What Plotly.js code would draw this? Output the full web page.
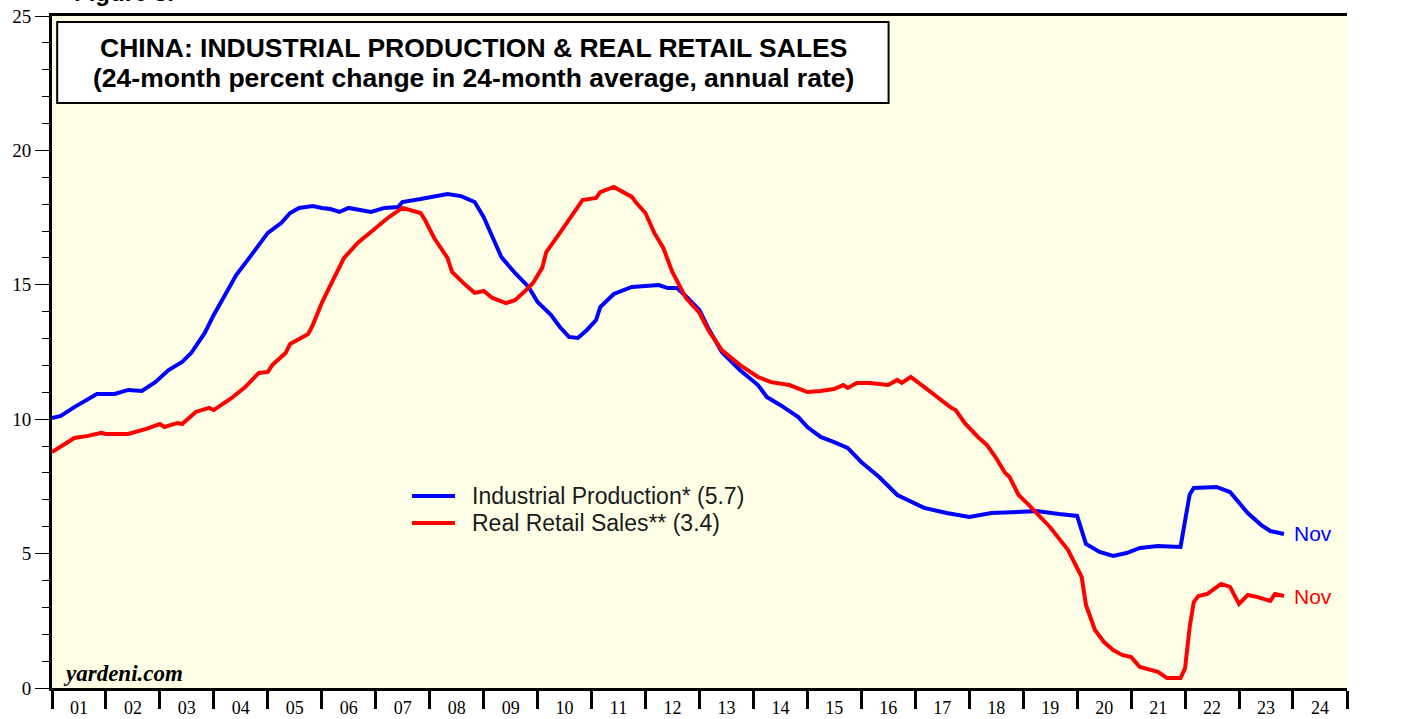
<!DOCTYPE html>
<html>
<head>
<meta charset="utf-8">
<script src="https://cdn.plot.ly/plotly-3.0.1.min.js"></script>
<style>
html,body{margin:0;padding:0;background:#fff;}
#chart{width:1407px;height:719px;}
</style>
</head>
<body>
<div id="chart"></div>
<script>
// Industrial Production (24-month % change in 24-month average, annual rate)
const ipDates = ['2001-01','2001-03','2001-06','2001-09','2001-11','2002-03','2002-06','2002-09','2002-12','2003-03','2003-06','2003-08','2003-11','2004-01','2004-04','2004-06','2004-09','2005-01','2005-04','2005-06','2005-08','2005-11','2006-01','2006-03','2006-05','2006-07','2006-12','2007-03','2007-06','2007-07','2007-11','2008-05','2008-08','2008-11','2009-01','2009-03','2009-05','2009-08','2009-11','2010-01','2010-04','2010-06','2010-08','2010-10','2010-12','2011-02','2011-03','2011-06','2011-10','2012-04','2012-06','2012-08','2012-10','2013-01','2013-03','2013-06','2013-10','2014-02','2014-04','2014-07','2014-11','2015-01','2015-04','2015-07','2015-10','2016-01','2016-05','2016-09','2016-12','2017-03','2017-08','2018-01','2018-06','2018-11','2019-04','2019-09','2020-01','2020-03','2020-06','2020-09','2020-12','2021-03','2021-07','2021-12','2022-02','2022-03','2022-08','2022-11','2023-01','2023-03','2023-06','2023-08','2023-11'];
const ipValues = [10.04,10.12,10.45,10.75,10.94,10.94,11.09,11.05,11.38,11.83,12.13,12.46,13.21,13.88,14.81,15.36,16.03,16.93,17.30,17.67,17.86,17.93,17.86,17.82,17.71,17.86,17.71,17.86,17.89,18.08,18.19,18.38,18.30,18.08,17.52,16.78,16.03,15.44,14.92,14.36,13.88,13.43,13.06,13.02,13.32,13.69,14.17,14.66,14.92,14.99,14.88,14.88,14.58,14.06,13.39,12.50,11.83,11.27,10.83,10.53,10.08,9.71,9.34,9.15,8.93,8.41,7.85,7.18,6.92,6.70,6.51,6.36,6.51,6.55,6.58,6.47,6.40,5.36,5.06,4.91,5.02,5.21,5.28,5.25,7.20,7.44,7.48,7.29,6.88,6.51,6.06,5.84,5.73];

// Real Retail Sales
const rrsDates = ['2001-01','2001-03','2001-06','2001-09','2001-12','2002-01','2002-06','2002-10','2003-01','2003-02','2003-05','2003-06','2003-09','2003-12','2004-01','2004-05','2004-08','2004-11','2005-01','2005-02','2005-05','2005-06','2005-10','2005-11','2006-01','2006-03','2006-06','2006-09','2007-01','2007-04','2007-07','2007-11','2007-12','2008-02','2008-05','2008-06','2008-09','2008-11','2009-01','2009-03','2009-06','2009-08','2009-10','2009-12','2010-02','2010-03','2010-06','2010-09','2010-11','2011-02','2011-03','2011-06','2011-10','2011-11','2012-01','2012-03','2012-05','2012-07','2012-10','2013-01','2013-03','2013-06','2013-10','2014-02','2014-05','2014-09','2015-01','2015-04','2015-07','2015-09','2015-10','2015-12','2016-03','2016-07','2016-09','2016-10','2016-12','2017-03','2017-06','2017-09','2017-10','2017-12','2018-03','2018-05','2018-07','2018-09','2018-10','2018-12','2019-02','2019-07','2019-11','2020-02','2020-03','2020-05','2020-07','2020-09','2020-11','2021-01','2021-03','2021-07','2021-09','2021-12','2022-01','2022-02','2022-03','2022-04','2022-06','2022-09','2022-11','2023-01','2023-03','2023-05','2023-08','2023-09','2023-11'];
const rrsValues = [8.78,9.00,9.30,9.38,9.49,9.45,9.45,9.64,9.82,9.71,9.86,9.82,10.27,10.42,10.34,10.79,11.20,11.72,11.76,12.02,12.46,12.80,13.17,13.50,14.32,14.99,16.00,16.56,17.11,17.52,17.86,17.67,17.41,16.74,16.00,15.48,14.99,14.70,14.77,14.51,14.32,14.43,14.73,15.07,15.63,16.22,16.93,17.67,18.15,18.23,18.45,18.64,18.27,18.04,17.67,16.93,16.37,15.48,14.51,13.95,13.32,12.57,12.02,11.57,11.38,11.27,11.01,11.05,11.12,11.27,11.16,11.35,11.35,11.27,11.46,11.35,11.57,11.20,10.79,10.42,10.34,9.86,9.34,9.04,8.56,8.00,7.85,7.18,6.85,5.99,5.13,4.13,3.09,2.16,1.71,1.41,1.23,1.15,0.78,0.60,0.37,0.37,0.74,2.27,3.20,3.42,3.50,3.87,3.76,3.13,3.46,3.39,3.24,3.50,3.42];

const seriesNames = ['Industrial Production* (5.7)', 'Real Retail Sales** (3.4)'];
const seriesColors = ['#0000ff', '#ff0000'];
const lastLabel = 'Nov';
const titleLines = ['CHINA: INDUSTRIAL PRODUCTION & REAL RETAIL SALES', '(24-month percent change in 24-month average, annual rate)'];
const yTickVals = [0,5,10,15,20,25];

const traces = [
  {x: ipDates, y: ipValues, type: 'scatter', mode: 'lines', name: seriesNames[0],
   line: {color: seriesColors[0], width: 4}},
  {x: rrsDates, y: rrsValues, type: 'scatter', mode: 'lines', name: seriesNames[1],
   line: {color: seriesColors[1], width: 4}}
];

const sans = '"Liberation Sans", Arial, Helvetica, sans-serif';
const serif = '"Liberation Serif", "Times New Roman", serif';
const tickFont = {family: serif, size: 19, color: '#000'};
const yCommon = {
  range: [0, 25], tickvals: yTickVals, ticks: 'outside', ticklen: 14, tickwidth: 1, tickcolor: '#000',
  showgrid: false, zeroline: false, showline: true, linewidth: 3, linecolor: '#000',
  tickfont: tickFont, fixedrange: true,
  minor: {dtick: 1, ticks: 'outside', ticklen: 7, tickwidth: 1, tickcolor: '#000', showgrid: false}
};

// manual legend geometry (paper coords)
const legX0 = 0.278, legX1 = 0.3112, legTextX = 0.3228;
const legY = [0.2857, 0.2455];

const shapes = [
  {type: 'rect', xref: 'paper', yref: 'paper', x0: 0.004, x1: 0.646, y0: 0.8705, y1: 0.991,
   fillcolor: '#ffffff', line: {color: '#000', width: 2}, layer: 'above'}
];
const annotations = [
  {xref: 'paper', yref: 'paper', x: 0.3251, y: 0.9524, xanchor: 'center', yanchor: 'middle',
   text: '<b>' + titleLines[0] + '</b>', showarrow: false,
   font: {family: sans, size: 26.5, color: '#000'}},
  {xref: 'paper', yref: 'paper', x: 0.3251, y: 0.9077, xanchor: 'center', yanchor: 'middle',
   text: '<b>' + titleLines[1] + '</b>', showarrow: false,
   font: {family: sans, size: 26.5, color: '#000'}},
  {xref: 'paper', yref: 'paper', x: 0.007, y: 0.022, xanchor: 'left', yanchor: 'middle',
   text: '<b><i>yardeni.com</i></b>', showarrow: false,
   font: {family: serif, size: 23, color: '#000'}},
  {x: ipDates[ipDates.length - 1], y: ipValues[ipValues.length - 1], xref: 'x', yref: 'y',
   xanchor: 'left', yanchor: 'middle', xshift: 8, text: lastLabel, showarrow: false,
   font: {family: sans, size: 21, color: seriesColors[0]}},
  {x: rrsDates[rrsDates.length - 1], y: rrsValues[rrsValues.length - 1], xref: 'x', yref: 'y',
   xanchor: 'left', yanchor: 'middle', xshift: 8, text: lastLabel, showarrow: false,
   font: {family: sans, size: 21, color: seriesColors[1]}},
  {xref: 'paper', yref: 'paper', x: 0.0154, y: 1.0, xanchor: 'left', yanchor: 'bottom', yshift: 8,
   text: '<b>Figure 5.</b>', showarrow: false,
   font: {family: sans, size: 24, color: '#000'}}
];
seriesNames.forEach((nm, i) => {
  shapes.push({type: 'line', xref: 'paper', yref: 'paper', x0: legX0, x1: legX1, y0: legY[i], y1: legY[i],
               line: {color: seriesColors[i], width: 4}});
  annotations.push({xref: 'paper', yref: 'paper', x: legTextX, y: legY[i], xanchor: 'left', yanchor: 'middle',
                    text: nm, showarrow: false, font: {family: sans, size: 23, color: '#1a1a1a'}});
});

const layout = {
  width: 1407, height: 719,
  margin: {l: 52, r: 60, t: 16, b: 31},
  paper_bgcolor: '#ffffff',
  plot_bgcolor: '#fefee6',
  showlegend: false,
  xaxis: {
    type: 'date', range: ['2001-01-01', '2025-01-01'],
    dtick: 'M12', tick0: '2001-01-01', tickformat: '%y', ticklabelmode: 'period',
    ticks: 'outside', ticklen: 18, tickwidth: 3, tickcolor: '#000',
    ticklabelstandoff: -17,
    showgrid: false, zeroline: false, showline: true, linewidth: 3, linecolor: '#000', mirror: true,
    tickfont: {family: serif, size: 18, color: '#000'}, fixedrange: true
  },
  yaxis: Object.assign({side: 'left'}, yCommon),
  yaxis2: Object.assign({side: 'right', overlaying: 'y'}, yCommon),
  shapes: shapes,
  annotations: annotations
};

Plotly.newPlot('chart', traces, layout, {displayModeBar: false, staticPlot: true});
</script>
</body>
</html>
